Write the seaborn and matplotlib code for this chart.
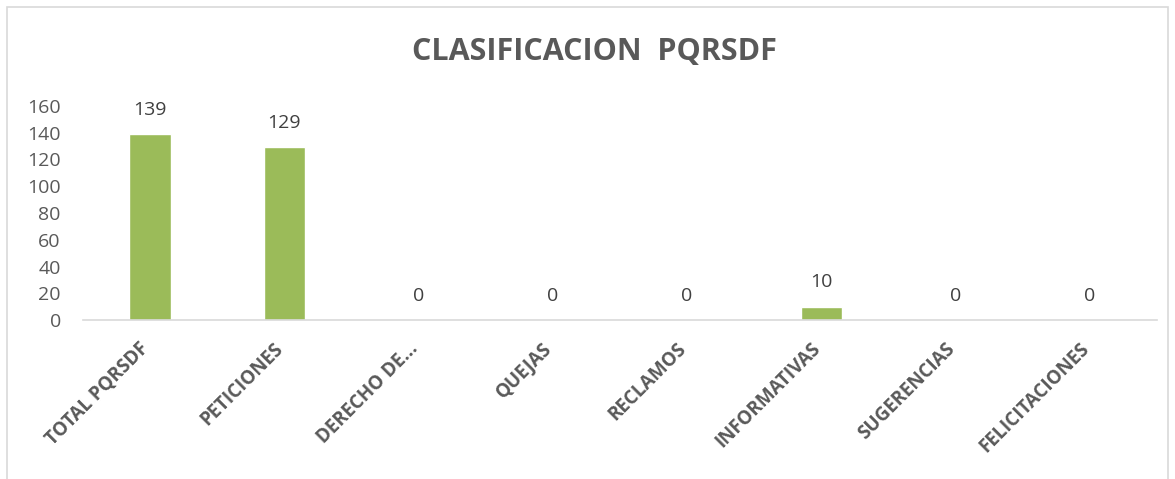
import matplotlib
matplotlib.use("Agg")
import matplotlib.pyplot as plt
import seaborn as sns
import pandas as pd
from matplotlib.patches import Rectangle
from matplotlib.transforms import ScaledTranslation

categories = ["TOTAL PQRSDF", "PETICIONES", "DERECHO DE...", "QUEJAS",
              "RECLAMOS", "INFORMATIVAS", "SUGERENCIAS", "FELICITACIONES"]
values = [139, 129, 0, 0, 0, 10, 0, 0]
yticks = [0, 20, 40, 60, 80, 100, 120, 140, 160]
title = "CLASIFICACION  PQRSDF"

sns.set_theme(style="white")
plt.rcParams['font.family'] = ['Open Sans', 'DejaVu Sans']

df = pd.DataFrame({"cat": categories, "val": values})

fig = plt.figure(figsize=(11.75, 4.79), dpi=100)
ax = fig.add_axes([83/1175, 1 - 320/479, 1074/1175, 214/479])

sns.barplot(data=df, x="cat", y="val", color="#9BBB59", width=0.31,
            saturation=1, ax=ax)

ax.set_ylim(0, 160)
ax.set_yticks(yticks)
ax.set_yticklabels([str(t) for t in yticks], fontsize=14, color="#595959")
ax.tick_params(axis="y", length=0, pad=16)
ax.tick_params(axis="x", length=0, pad=0)
ax.set_xlabel("")
ax.set_ylabel("")
for s in ["top", "right", "left"]:
    ax.spines[s].set_visible(False)
ax.spines["bottom"].set_color("#D9D9D9")
ax.spines["bottom"].set_linewidth(1.2)
ax.set_xlim(-0.5, len(categories) - 0.5)

ax.set_xticks(range(len(categories)))
ax.set_xticklabels(categories, rotation=45, ha="right", va="top",
                   rotation_mode="anchor", fontsize=13.5, fontweight="bold",
                   color="#595959")
offset = ScaledTranslation(-11/100, -19/100, fig.dpi_scale_trans)
for lbl in ax.get_xticklabels():
    lbl.set_transform(lbl.get_transform() + offset)

for container in ax.containers:
    ax.bar_label(container, labels=[str(v) for v in values], padding=11,
                 fontsize=14, color="#404040")

fig.text(594/1175, 1 - 52/479, title, ha="center", va="center",
         fontsize=22, fontweight="bold", color="#595959")

fig.patches.append(Rectangle((7/1175, -0.02), (1168 - 7)/1175, 1 - 7/479 + 0.02,
                             transform=fig.transFigure, fill=False,
                             edgecolor="#D9D9D9", linewidth=1.2))

fig.savefig("out.png", dpi=100)
